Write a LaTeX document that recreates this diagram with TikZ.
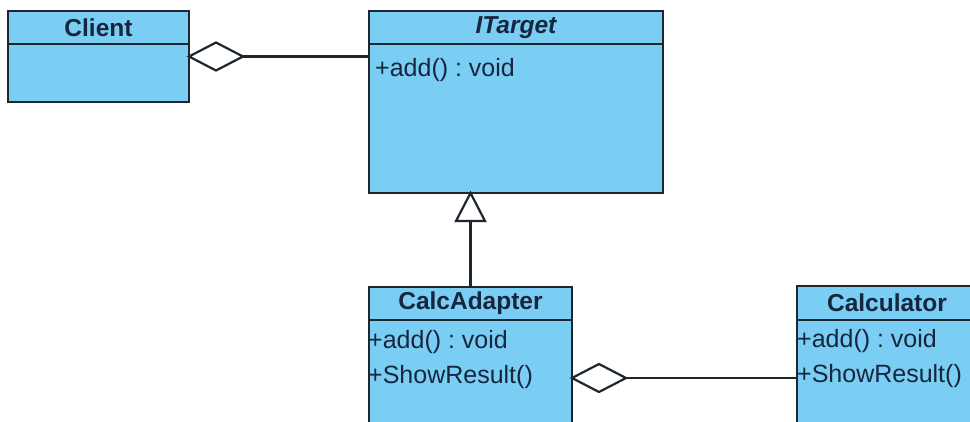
\documentclass[tikz,border=0pt]{standalone}
\usepackage{fontspec}
\setmainfont{Liberation Sans}
\frenchspacing
\definecolor{umlfill}{RGB}{122,205,243}
\definecolor{umlline}{RGB}{30,38,48}
\definecolor{umltext}{RGB}{22,38,62}
\begin{document}
\begin{tikzpicture}[x=1pt,y=-1pt,
  classbox/.style={draw=umlline, line width=2.2pt, fill=umlfill, inner sep=0pt, outer sep=0pt},
  head/.style={font=\fontsize{24.5}{28}\selectfont\bfseries, text=umltext, inner sep=0pt},
  member/.style={font=\fontsize{25}{29}\selectfont, text=umltext, anchor=west, inner sep=0pt},
  conn/.style={draw=umlline, line width=2.2pt},
  hollow/.style={draw=umlline, line width=2.2pt, fill=white, line join=miter},
]
\useasboundingbox (0,0) rectangle (970,421);
\fill[white] (0,0) rectangle (970,421);
\clip (0,0) rectangle (970,421);

% class boxes
\node[classbox, minimum width=181pt, minimum height=91pt] (client) at (98.5,56.5) {};
\node[classbox, minimum width=294pt, minimum height=182pt] (itarget) at (516,102) {};
\node[classbox, minimum width=203pt, minimum height=153pt] (adapter) at (470.5,363.5) {};
\node[classbox, minimum width=180pt, minimum height=154pt] (calc) at (887,363) {};

% header separators
\draw[conn] (client.west |- 0,44) -- (client.east |- 0,44);
\draw[conn] (itarget.west |- 0,44) -- (itarget.east |- 0,44);
\draw[conn] (adapter.west |- 0,320) -- (adapter.east |- 0,320);
\draw[conn] (calc.west |- 0,320) -- (calc.east |- 0,320);

% class names
\node[head] (clientname) at (98.5,27.5) {Client};
\node[head, font=\fontsize{24.5}{28}\selectfont\bfseries\itshape] (itargetname) at (516,27.5) {ITarget};
\node[head] (adaptername) at (470.5,303.5) {CalcAdapter};
\node[head] (calcname) at (887,303) {Calculator};

% operations
\node[member] (itargetadd) at (375,70) {+add() : void};
\node[member] (adapteradd) at (368,342) {+add() : void};
\node[member] (adaptershow) at (368,377) {+ShowResult()};
\node[member] (calcadd) at (797,341) {+add() : void};
\node[member] (calcshow) at (797,376) {+ShowResult()};

% Client <>--- ITarget
\coordinate (d1) at (client.east);
\draw[hollow] (d1) -- ++(27,-14) -- ++(27,14) -- ++(-27,14) -- cycle;
\coordinate (d1end) at ([xshift=54pt]d1);
\draw[conn] (d1end) -- (itarget.west |- d1);

% CalcAdapter --|> ITarget
\coordinate (tip) at (itarget.south -| adapter.north);
\draw[hollow] (tip) -- ++(14.5,28) -- ++(-29,0) -- cycle;
\draw[conn] ([yshift=-28pt]tip) -- (adapter.north);

% CalcAdapter <>--- Calculator
\coordinate (d2) at (adapter.east |- 0,378);
\draw[hollow] (d2) -- ++(27,-14) -- ++(27,14) -- ++(-27,14) -- cycle;
\draw[conn] ([xshift=54pt]d2) -- (calc.west |- d2);
\end{tikzpicture}
\end{document}
